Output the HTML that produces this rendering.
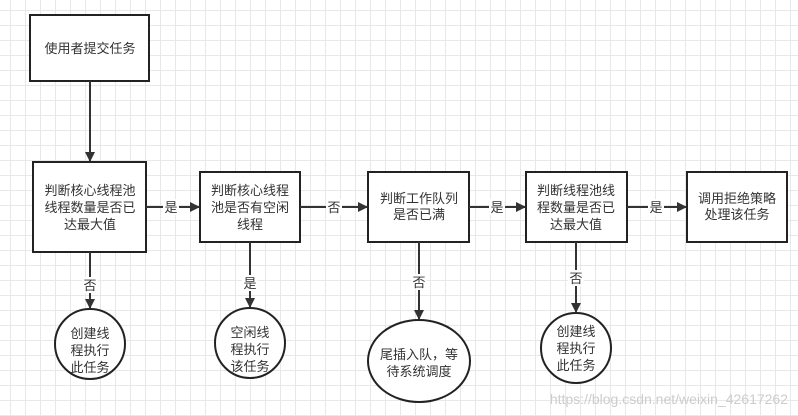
<!DOCTYPE html>
<html><head><meta charset="utf-8"><style>
body{margin:0;width:798px;height:416px;overflow:hidden;background:#fff;
background-image:linear-gradient(#e8e8e8 1px,transparent 1px),linear-gradient(90deg,#e8e8e8 1px,transparent 1px);
background-size:15px 15px;background-position:10px 10px;}
</style></head><body>
<svg width="798" height="416" xmlns="http://www.w3.org/2000/svg" style="position:absolute;left:0;top:0">
<defs><marker id="a" markerWidth="10" markerHeight="10" refX="9" refY="5" orient="auto" markerUnits="userSpaceOnUse"><path d="M0,0 L10,5 L0,10 Z" fill="#333"/></marker></defs>
<g fill="#fff" stroke="#222" stroke-width="2">
<rect x="30" y="15" width="119" height="66"/>
<rect x="33" y="162" width="113" height="90"/>
<rect x="200" y="172" width="100" height="70"/>
<rect x="368" y="172" width="101" height="70"/>
<rect x="526" y="172" width="101" height="70"/>
<rect x="687" y="172" width="100" height="70"/>
<ellipse cx="90" cy="344" rx="35" ry="35"/>
<ellipse cx="250" cy="343" rx="35" ry="35"/>
<ellipse cx="419" cy="361" rx="51" ry="41"/>
<ellipse cx="576" cy="348" rx="35" ry="35"/>
</g>
<g stroke="#333" stroke-width="2" fill="none" marker-end="url(#a)">
<line x1="90" y1="81" x2="90" y2="161"/>
<line x1="146" y1="207" x2="199" y2="207"/>
<line x1="300" y1="207" x2="367" y2="207"/>
<line x1="469" y1="207" x2="525" y2="207"/>
<line x1="627" y1="207" x2="686" y2="207"/>
<line x1="90" y1="252" x2="90" y2="308"/>
<line x1="250" y1="242" x2="250" y2="307"/>
<line x1="419" y1="242" x2="419" y2="319"/>
<line x1="576" y1="242" x2="576" y2="312"/>
</g>
<g font-family="Liberation Sans,Noto Sans CJK SC,sans-serif" font-size="13" fill="#333" text-anchor="middle">
<text x="90" y="53">使用者提交任务</text>
<text x="90" y="195">判断核心线程池</text><text x="90" y="212">线程数量是否已</text><text x="90" y="229">达最大值</text>
<text x="250" y="195">判断核心线程</text><text x="250" y="212">池是否有空闲</text><text x="250" y="229">线程</text>
<text x="419" y="203">判断工作队列</text><text x="419" y="219">是否已满</text>
<text x="576" y="195">判断线程池线</text><text x="576" y="212">程数量是否已</text><text x="576" y="229">达最大值</text>
<text x="737" y="203">调用拒绝策略</text><text x="737" y="219">处理该任务</text>
<text x="90" y="338">创建线</text><text x="90" y="355">程执行</text><text x="90" y="372">此任务</text>
<text x="250" y="337">空闲线</text><text x="250" y="354">程执行</text><text x="250" y="371">该任务</text>
<text x="419" y="359">尾插入队，等</text><text x="419" y="376">待系统调度</text>
<text x="576" y="336">创建线</text><text x="576" y="353">程执行</text><text x="576" y="370">此任务</text>
</g>
<g font-family="Liberation Sans,Noto Sans CJK SC,sans-serif" font-size="13" fill="#333" text-anchor="middle">
<rect x="163" y="199" width="16" height="16" fill="#fff"/><text x="171" y="212">是</text>
<rect x="326" y="199" width="16" height="16" fill="#fff"/><text x="334" y="212">否</text>
<rect x="489" y="199" width="16" height="16" fill="#fff"/><text x="497" y="212">是</text>
<rect x="648" y="199" width="16" height="16" fill="#fff"/><text x="656" y="212">是</text>
<rect x="82" y="277" width="16" height="16" fill="#fff"/><text x="90" y="290">否</text>
<rect x="242" y="275" width="16" height="16" fill="#fff"/><text x="250" y="288">是</text>
<rect x="411" y="274" width="16" height="16" fill="#fff"/><text x="419" y="287">否</text>
<rect x="568" y="270" width="16" height="16" fill="#fff"/><text x="576" y="283">否</text>
</g>
<text x="788" y="404" text-anchor="end" font-family="Liberation Sans,sans-serif" font-size="14" fill="#ccc">https://blog.csdn.net/weixin_42617262</text>
</svg>
</body></html>
